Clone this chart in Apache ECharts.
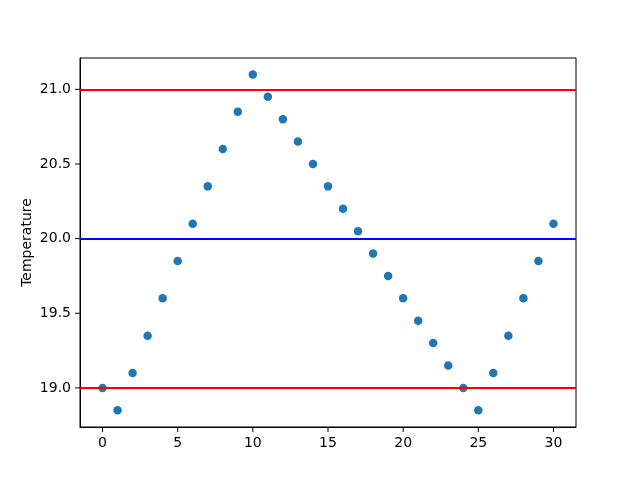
<!DOCTYPE html>
<html lang="en">
  <head>
    <meta charset="UTF-8" />
    <title>Temperature</title>
    <script src="https://cdn.jsdelivr.net/npm/echarts@6.0.0/dist/echarts.min.js"></script>
  </head>
  <body style="margin: 0">
    <div id="main" style="width: 640px; height: 480px"></div>
    <script type="text/javascript">
      // readings, one per step
      const steps = [
        0, 1, 2, 3, 4, 5, 6, 7, 8, 9, 10, 11, 12, 13, 14, 15, 16, 17, 18, 19,
        20, 21, 22, 23, 24, 25, 26, 27, 28, 29, 30,
      ];
      const temps = [
        19.0, 18.85, 19.1, 19.35, 19.6, 19.85, 20.1, 20.35, 20.6, 20.85, 21.1,
        20.95, 20.8, 20.65, 20.5, 20.35, 20.2, 20.05, 19.9, 19.75, 19.6, 19.45,
        19.3, 19.15, 19.0, 18.85, 19.1, 19.35, 19.6, 19.85, 20.1,
      ];
      const xTicks = [0, 5, 10, 15, 20, 25, 30];
      const yTicks = [19.0, 19.5, 20.0, 20.5, 21.0];
      const limits = [19.0, 21.0];
      const target = [20.0];

      let myChart = echarts.init(document.getElementById("main"));

      const font = {
        color: "#000",
        fontSize: 14,
        fontFamily: "DejaVu Sans",
      };

      // tick marks are drawn as part of the label, so they sit on the custom values
      let options = {
        animation: false,
        backgroundColor: "#fff",
        grid: {
          left: 80,
          right: 64,
          top: 58,
          bottom: 53,
          show: true,
          borderColor: "#000",
          borderWidth: 1,
        },
        xAxis: {
          type: "value",
          min: -1.5,
          max: 31.5,
          splitLine: { show: false },
          axisLine: { onZero: false, lineStyle: { color: "#000" } },
          axisTick: { show: false },
          axisLabel: {
            customValues: xTicks,
            margin: 0,
            formatter: (v) => "{t| }\n{v|" + v + "}",
            rich: {
              t: { width: 1, height: 5, backgroundColor: "#000", align: "center" },
              v: Object.assign({ padding: [4, 0, 0, 0], align: "center" }, font),
            },
          },
        },
        yAxis: {
          type: "value",
          min: 18.738,
          max: 21.21,
          name: "Temperature",
          nameLocation: "middle",
          nameGap: 46,
          nameMoveOverlap: false,
          nameTextStyle: font,
          splitLine: { show: false },
          axisLine: { show: true, onZero: false, lineStyle: { color: "#000" } },
          axisTick: { show: false },
          axisLabel: {
            customValues: yTicks,
            margin: 0,
            formatter: (v) => "{v|" + v.toFixed(1) + "}{s| }{t| }",
            rich: {
              v: Object.assign({ verticalAlign: "middle" }, font),
              s: { width: 4, fontSize: 14 },
              t: { width: 5, height: 1, backgroundColor: "#000", verticalAlign: "middle" },
            },
          },
        },
        series: [
          {
            type: "scatter",
            data: steps.map((s, i) => [s, temps[i]]),
            symbolSize: 8.5,
            itemStyle: { color: "#1f77b4", opacity: 1 },
            z: 2,
          },
          {
            type: "line",
            data: [],
            z: 3,
            markLine: {
              silent: true,
              symbol: "none",
              label: { show: false },
              data: limits
                .map((v) => ({
                  yAxis: v,
                  lineStyle: { color: "#ff0000", width: 2, type: "solid" },
                }))
                .concat(
                  target.map((v) => ({
                    yAxis: v,
                    lineStyle: { color: "#0000ff", width: 2, type: "solid" },
                  }))
                ),
            },
          },
        ],
      };

      myChart.setOption(options);
    </script>
  </body>
</html>
